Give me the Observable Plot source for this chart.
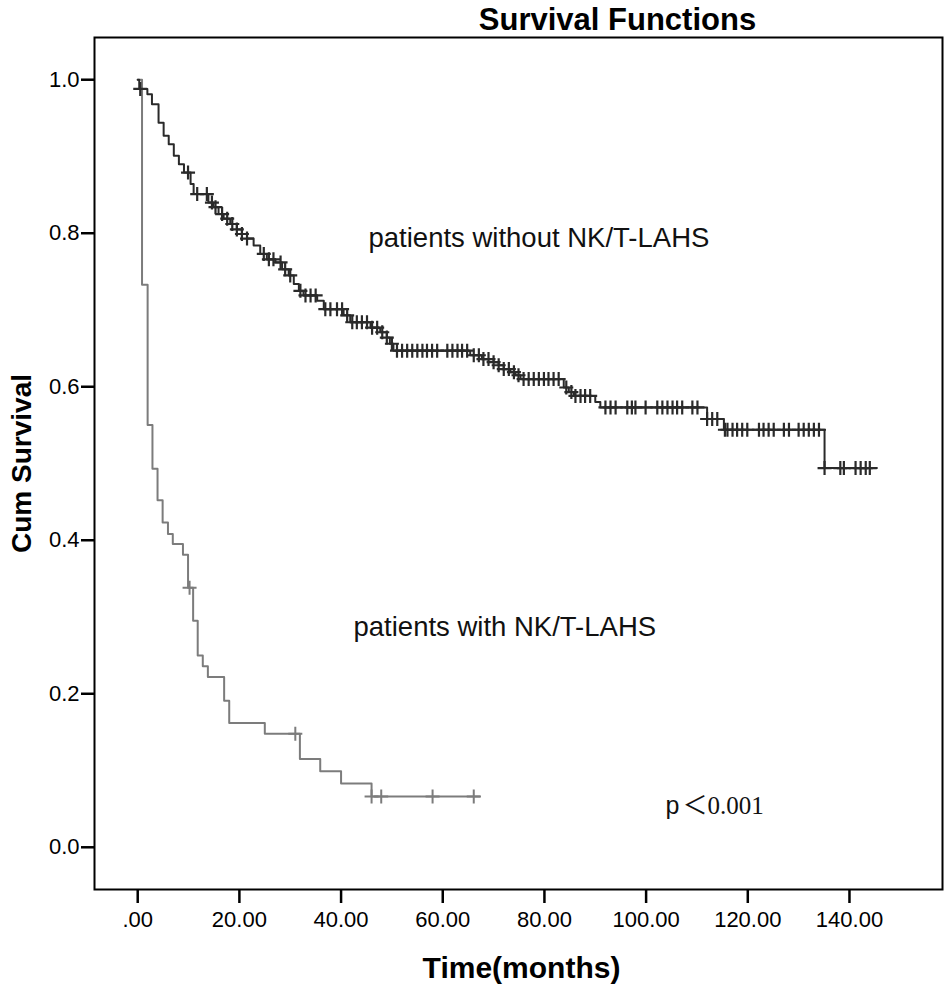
<!DOCTYPE html>
<html>
<head>
<meta charset="utf-8">
<script src="https://cdn.jsdelivr.net/npm/d3@7"></script>
<script src="https://cdn.jsdelivr.net/npm/@observablehq/plot@0.6"></script>
<style>
  html, body { margin: 0; padding: 0; background: #fff; }
  #chart svg { display: block; }
</style>
</head>
<body>
<div id="chart"></div>
<script>
// ---- Data ----
// Upper curve: patients without NK/T-LAHS (step times and survival after each step)
const withoutTimes = [0, 0.3, 1.9, 2.8, 4.1, 5.1, 6.1, 7.1, 8.1, 9.1, 10.4, 11.0, 13.9, 14.9, 15.9, 16.9, 18.2, 19.5, 20.5, 21.5, 22.8, 24.1, 25.4, 27.1, 28.4, 29.7, 30.7, 31.7, 32.6, 35.3, 36.6, 40.5, 41.8, 45.8, 47.7, 49.0, 49.6, 50.3, 65.4, 67.7, 70.0, 71.0, 72.0, 73.3, 74.3, 75.3, 83.8, 84.8, 85.8, 90.0, 91.0, 112.0, 115.3, 135.1, 145.4];
const withoutSurv = [1.0, 0.988, 0.981, 0.968, 0.944, 0.927, 0.916, 0.901, 0.890, 0.879, 0.864, 0.851, 0.840, 0.834, 0.825, 0.819, 0.812, 0.805, 0.799, 0.793, 0.784, 0.773, 0.766, 0.762, 0.753, 0.745, 0.734, 0.725, 0.719, 0.712, 0.701, 0.693, 0.684, 0.677, 0.671, 0.664, 0.656, 0.647, 0.641, 0.636, 0.632, 0.628, 0.623, 0.619, 0.615, 0.610, 0.599, 0.593, 0.588, 0.580, 0.573, 0.558, 0.544, 0.494, 0.494];
const withoutCensored = [0.5, 9.9, 11.7, 13.6, 14.6, 15.3, 16.6, 17.6, 18.6, 19.5, 20.5, 21.5, 24.8, 25.8, 26.7, 28.1, 29.0, 30.0, 32.0, 33.0, 34.0, 35.0, 36.9, 37.9, 39.2, 40.2, 41.2, 42.2, 43.1, 44.1, 45.1, 46.1, 47.1, 48.1, 49.0, 50.0, 51, 52, 53, 54, 55, 56, 56.9, 57.9, 58.9, 60.9, 61.9, 62.9, 63.8, 64.8, 66.1, 67.1, 68, 69, 70, 71, 72, 73, 74, 74.9, 75.9, 76.9, 77.9, 78.9, 79.9, 80.8, 81.8, 82.8, 84.3, 85.3, 86.1, 87.1, 88, 89, 92, 93, 94, 96.3, 97.2, 97.9, 99.9, 102.2, 103.2, 104.2, 105.2, 106.1, 107.1, 109.1, 110.1, 112, 113, 114, 115.5, 116, 117, 117.9, 118.9, 119.9, 122.2, 123.1, 124.1, 125.1, 127.1, 128.1, 130, 131, 132, 133, 134, 135.1, 138.2, 138.9, 141.2, 142.2, 143.2, 144];

// Lower curve: patients with NK/T-LAHS
const withTimes = [0, 0.85, 1.95, 2.9, 3.9, 4.9, 5.95, 6.9, 8.9, 9.9, 10.9, 11.8, 12.8, 13.8, 17.0, 18.0, 25.0, 31.9, 35.9, 40.0, 46.0, 67.3];
const withSurv = [1.0, 0.733, 0.550, 0.493, 0.452, 0.423, 0.408, 0.395, 0.381, 0.338, 0.295, 0.250, 0.236, 0.222, 0.191, 0.162, 0.148, 0.115, 0.099, 0.083, 0.066, 0.066];
const withCensored = [10.2, 31.0, 46.0, 47.9, 58.0, 66.1];

const xTicks = [0, 20, 40, 60, 80, 100, 120, 140];
const yTicks = [0, 0.2, 0.4, 0.6, 0.8, 1.0];

// ---- Build tables ----
const steps = (times, surv) => times.map((t, i) => ({t, s: surv[i]}));
const survAt = (times, surv, t) => {
  let s = surv[0];
  for (let i = 0; i < times.length; i++) if (times[i] <= t) s = surv[i];
  return s;
};
const withoutSteps = steps(withoutTimes, withoutSurv);
const withSteps = steps(withTimes, withSurv);
const withoutCens = withoutCensored.map(t => ({t, s: survAt(withoutTimes, withoutSurv, t)}));
const withCens = withCensored.map(t => ({t, s: survAt(withTimes, withSurv, t)}));

const cross = {
  draw(ctx, size) {
    const r = Math.sqrt(size / Math.PI);
    ctx.moveTo(-r, 0); ctx.lineTo(r, 0);
    ctx.moveTo(0, -r); ctx.lineTo(0, r);
  }
};

const darkColor = "#2a2a2a";
const grayColor = "#7c7c7c";
const sans = "'Liberation Sans', Arial, sans-serif";

const chart = Plot.plot({
  width: 945,
  height: 985,
  marginLeft: 94,
  marginRight: 3,
  marginTop: 37,
  marginBottom: 96,
  style: {fontFamily: sans, background: "#fff", color: "#000"},
  x: {domain: [-8.5, 158.3]},
  y: {domain: [-0.055, 1.055]},
  marks: [
    Plot.frame({stroke: "#000", strokeWidth: 2}),
    Plot.axisX({ticks: xTicks, tickFormat: d => d === 0 ? ".00" : d.toFixed(2), tickSize: 14, tickPadding: 8, fontSize: 22, strokeWidth: 2.5, label: null}),
    Plot.axisY({ticks: yTicks, tickFormat: d3.format(".1f"), tickSize: 13, tickPadding: 2, fontSize: 22, strokeWidth: 2.5, label: null}),
    Plot.line(withSteps, {x: "t", y: "s", curve: "step-after", stroke: grayColor, strokeWidth: 2}),
    Plot.dot(withCens, {x: "t", y: "s", symbol: cross, r: 7, fill: "none", stroke: grayColor, strokeWidth: 2}),
    Plot.line(withoutSteps, {x: "t", y: "s", curve: "step-after", stroke: darkColor, strokeWidth: 2}),
    Plot.dot(withoutCens, {x: "t", y: "s", symbol: cross, r: 7, fill: "none", stroke: darkColor, strokeWidth: 2.2}),
    // titles and annotations
    Plot.text(["Survival Functions"], {frameAnchor: "top-left", dx: 523, dy: -8, textAnchor: "middle", lineAnchor: "bottom", fontSize: 31, fontWeight: "bold", fill: "#000"}),
    Plot.text(["Cum Survival"], {frameAnchor: "left", dx: -64, rotate: -90, textAnchor: "middle", lineAnchor: "bottom", fontSize: 28, fontWeight: "bold", fill: "#000"}),
    Plot.text(["Time(months)"], {frameAnchor: "bottom", dx: 3, dy: 88, textAnchor: "middle", lineAnchor: "bottom", fontSize: 30, fontWeight: "bold", fill: "#000"}),
    Plot.text(["patients without NK/T-LAHS"], {frameAnchor: "top-left", dx: 274, dy: 209, textAnchor: "start", lineAnchor: "bottom", fontSize: 27.5, fill: "#111"}),
    Plot.text(["patients with NK/T-LAHS"], {frameAnchor: "top-left", dx: 259, dy: 598, textAnchor: "start", lineAnchor: "bottom", fontSize: 27.5, fill: "#111"}),
    Plot.text(["p"], {frameAnchor: "top-left", dx: 571, dy: 776, textAnchor: "start", lineAnchor: "bottom", fontSize: 25, fill: "#111"}),
    Plot.text(["＜0.001"], {frameAnchor: "top-left", dx: 588, dy: 776, textAnchor: "start", lineAnchor: "bottom", fontSize: 25, fill: "#111", fontFamily: "'Liberation Serif', 'Times New Roman', 'Noto Sans CJK SC', serif"})
  ]
});
document.getElementById("chart").appendChild(chart);
</script>
</body>
</html>
